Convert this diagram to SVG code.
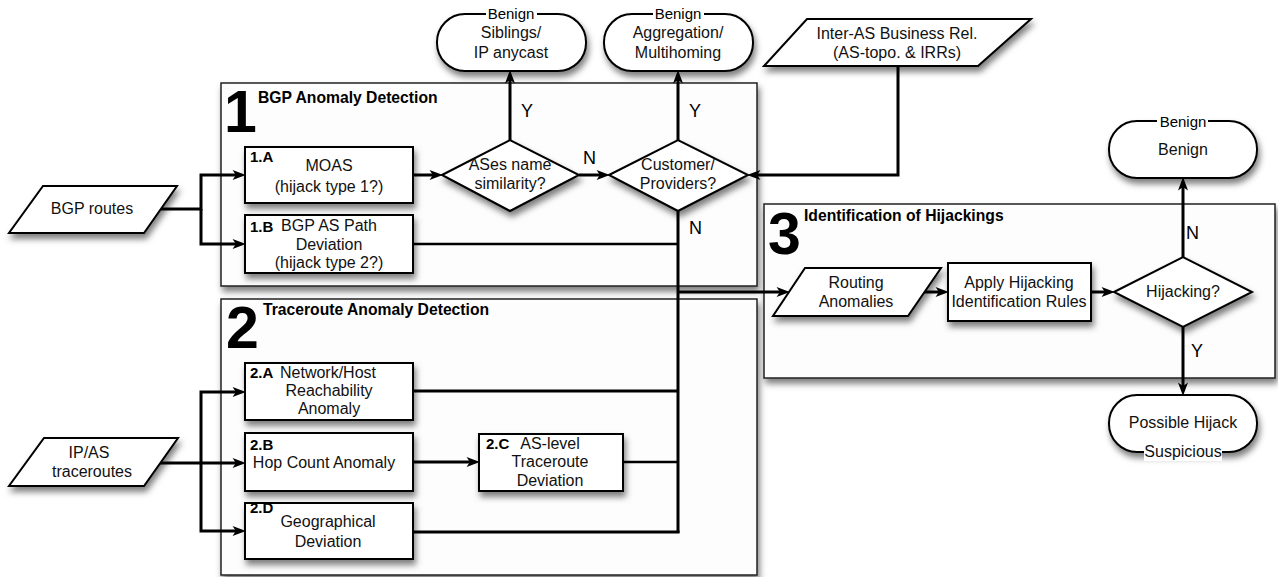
<svg xmlns="http://www.w3.org/2000/svg" width="1278" height="577" viewBox="0 0 1278 577">
<defs>
<filter id="sh" x="-10%" y="-10%" width="125%" height="145%">
<feDropShadow dx="2" dy="5" stdDeviation="3" flood-color="#000" flood-opacity="0.5"/>
</filter>
<marker id="ah" markerUnits="userSpaceOnUse" markerWidth="14" markerHeight="10" viewBox="0 0 12 9" refX="4" refY="4.5" orient="auto">
<path d="M0,0 L12,4.5 L0,9 L3,4.5 z" fill="#000"/>
</marker>
</defs>
<style>
.cont{fill:#fdfdfd;stroke:#222;stroke-width:1.5;filter:url(#sh)}
.shape{fill:#fff;stroke:#000;stroke-width:2;filter:url(#sh)}
.c{fill:none;stroke:#000;stroke-width:3}
.t{font-family:"Liberation Sans",Arial,sans-serif;font-size:16px;fill:#111;text-anchor:middle}
.b{font-family:"Liberation Sans",Arial,sans-serif;font-size:15px;font-weight:bold;fill:#000}
.ti{font-family:"Liberation Sans",Arial,sans-serif;font-size:15.7px;font-weight:bold;fill:#000}
.big{font-family:"Liberation Sans",Arial,sans-serif;font-size:59px;font-weight:bold;fill:#000}
.yn{font-family:"Liberation Sans",Arial,sans-serif;font-size:18px;fill:#000}
.lbl{font-family:"Liberation Sans",Arial,sans-serif;font-size:15px;fill:#000;text-anchor:middle}
</style>
<rect width="1278" height="577" fill="#fff"/>

<g id="container1">
<rect class="cont" x="221" y="83" width="536" height="203"/>
<text class="big" x="224" y="132">1</text>
<text class="ti" x="258" y="103">BGP Anomaly Detection</text>
</g>
<g id="container2">
<rect class="cont" x="221" y="299" width="536" height="276"/>
<text class="big" x="226" y="348">2</text>
<text class="ti" x="263" y="315">Traceroute Anomaly Detection</text>
</g>
<g id="container3">
<rect class="cont" x="764" y="204" width="511" height="174"/>
<text class="big" x="768" y="254">3</text>
<text class="ti" x="804" y="221">Identification of Hijackings</text>
</g>

<g id="connectors">
<path class="c" d="M160,209 H201 V175 H237" marker-end="url(#ah)"/>
<path class="c" d="M201,209 V244 H237" marker-end="url(#ah)"/>
<path class="c" d="M160,463 H237" marker-end="url(#ah)"/>
<path class="c" d="M201,463 V392 H237" marker-end="url(#ah)"/>
<path class="c" d="M201,463 V531 H237" marker-end="url(#ah)"/>
<path class="c" d="M413,175 H434" marker-end="url(#ah)"/>
<path class="c" d="M579,175 H601" marker-end="url(#ah)"/>
<path class="c" d="M510,140 V79" marker-end="url(#ah)"/>
<path class="c" d="M678,140 V79" marker-end="url(#ah)"/>
<path class="c" d="M898,66 V175 H756" marker-end="url(#ah)"/>
<path class="c" d="M678,211 V533"/>
<path class="c" d="M413,244 H678" style="stroke-width:2.5"/>
<path class="c" d="M413,391 H678"/>
<path class="c" d="M413,462 H471" marker-end="url(#ah)"/>
<path class="c" d="M623,462 H678" style="stroke-width:2.5"/>
<path class="c" d="M413,532 H679.5"/>
<path class="c" d="M678,292 H781" marker-end="url(#ah)"/>
<path class="c" d="M924,292 H940" marker-end="url(#ah)"/>
<path class="c" d="M1091,292 H1106" marker-end="url(#ah)"/>
<path class="c" d="M1183,257 V186" marker-end="url(#ah)"/>
<path class="c" d="M1183,327 V387" marker-end="url(#ah)"/>
<text class="yn" x="521" y="117">Y</text>
<text class="yn" x="689" y="117">Y</text>
<text class="yn" x="583" y="164">N</text>
<text class="yn" x="689" y="234">N</text>
<text class="yn" x="1186" y="239">N</text>
<text class="yn" x="1191" y="357">Y</text>
</g>

<g id="bgp-routes">
<polygon class="shape" points="43,186 177,186 144,233 9,233"/>
<text class="t" x="92" y="214">BGP routes</text>
</g>
<g id="ip-as-traceroutes">
<polygon class="shape" points="44,438 178,438 144,486 9,486"/>
<text class="t" x="89" y="458">IP/AS</text>
<text class="t" x="92" y="477">traceroutes</text>
</g>
<g id="inter-as">
<polygon class="shape" points="807,19 1031,19 978,66 764,66"/>
<text class="t" x="897" y="39">Inter-AS Business Rel.</text>
<text class="t" x="897" y="58">(AS-topo. &amp; IRRs)</text>
</g>

<g id="node-1a">
<rect class="shape" x="245" y="147" width="168" height="56"/>
<text class="b" x="250" y="162">1.A</text>
<text class="t" x="329" y="171">MOAS</text>
<text class="t" x="329" y="192">(hijack type 1?)</text>
</g>
<g id="node-1b">
<rect class="shape" x="245" y="215" width="168" height="58"/>
<text class="b" x="250" y="232">1.B</text>
<text class="t" x="329" y="231">BGP AS Path</text>
<text class="t" x="329" y="250">Deviation</text>
<text class="t" x="329" y="268">(hijack type 2?)</text>
</g>

<g id="node-2a">
<rect class="shape" x="245" y="363" width="168" height="57"/>
<text class="b" x="250" y="378">2.A</text>
<text class="t" x="328" y="378">Network/Host</text>
<text class="t" x="329" y="396">Reachability</text>
<text class="t" x="329" y="414">Anomaly</text>
</g>
<g id="node-2b">
<rect class="shape" x="245" y="433" width="168" height="58"/>
<text class="b" x="250" y="450">2.B</text>
<text class="t" x="324" y="468">Hop Count Anomaly</text>
</g>
<g id="node-2d">
<rect class="shape" x="245" y="503" width="168" height="56"/>
<text class="b" x="250" y="513">2.D</text>
<text class="t" x="328" y="527">Geographical</text>
<text class="t" x="328" y="547">Deviation</text>
</g>
<g id="node-2c">
<rect class="shape" x="479" y="434" width="144" height="57"/>
<text class="b" x="486" y="449">2.C</text>
<text class="t" x="550" y="449">AS-level</text>
<text class="t" x="550" y="467">Traceroute</text>
<text class="t" x="550" y="486">Deviation</text>
</g>

<g id="diamond-ases">
<polygon class="shape" points="442,175 510,140 579,175 510,211"/>
<text class="t" x="510" y="170">ASes name</text>
<text class="t" x="510" y="189">similarity?</text>
</g>
<g id="diamond-customer">
<polygon class="shape" points="609,175 678,140 748,175 678,211"/>
<text class="t" x="678" y="170">Customer/</text>
<text class="t" x="678" y="189">Providers?</text>
</g>

<g id="benign-siblings">
<rect class="shape" x="437" y="14" width="149" height="57" rx="28" ry="28"/>
<rect x="486" y="6" width="51" height="16" fill="#fff"/>
<text class="lbl" x="511" y="19">Benign</text>
<text class="t" x="511" y="38">Siblings/</text>
<text class="t" x="511" y="58">IP anycast</text>
</g>
<g id="benign-aggregation">
<rect class="shape" x="604" y="14" width="149" height="57" rx="28" ry="28"/>
<rect x="653" y="6" width="51" height="16" fill="#fff"/>
<text class="lbl" x="678" y="19">Benign</text>
<text class="t" x="678" y="38">Aggregation/</text>
<text class="t" x="678" y="58">Multihoming</text>
</g>

<g id="routing-anomalies">
<polygon class="shape" points="805,268 941,268 908,316 773,316"/>
<text class="t" x="856" y="288">Routing</text>
<text class="t" x="856" y="307">Anomalies</text>
</g>
<g id="apply-rules">
<rect class="shape" x="948" y="263" width="143" height="58"/>
<text class="t" x="1019" y="288">Apply Hijacking</text>
<text class="t" x="1019" y="307">Identification Rules</text>
</g>
<g id="diamond-hijacking">
<polygon class="shape" points="1114,292 1183,257 1252,292 1183,327"/>
<text class="t" x="1183" y="297">Hijacking?</text>
</g>
<g id="benign">
<rect class="shape" x="1109" y="121" width="148" height="57" rx="28" ry="28"/>
<rect x="1157" y="113" width="51" height="16" fill="#fff"/>
<text class="lbl" x="1183" y="127">Benign</text>
<text class="t" x="1183" y="155">Benign</text>
</g>
<g id="possible-hijack">
<rect class="shape" x="1109" y="395" width="148" height="57" rx="28" ry="28"/>
<rect x="1144" y="444" width="78" height="17" fill="#fff"/>
<text class="t" x="1183" y="428">Possible Hijack</text>
<text class="t" x="1183" y="457">Suspicious</text>
</g>
</svg>
